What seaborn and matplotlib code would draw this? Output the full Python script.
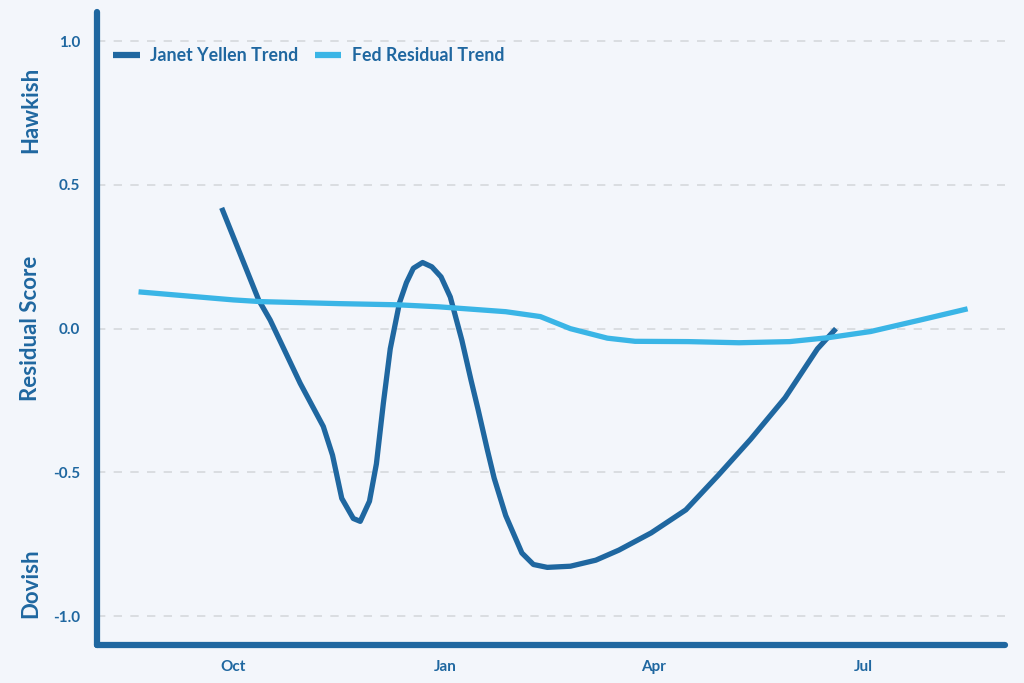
import matplotlib
matplotlib.use("Agg")
import matplotlib.pyplot as plt
import matplotlib.dates as mdates
import pandas as pd
import seaborn as sns

DARK = "#1f67a0"
LIGHT = "#3ab5e6"
BG = "#f3f6fb"

yellen_dates = ["2016-09-26", "2016-10-12", "2016-10-17", "2016-10-30", "2016-11-03",
                "2016-11-05", "2016-11-09", "2016-11-13", "2016-11-17", "2016-11-22",
                "2016-11-25", "2016-11-29", "2016-12-02", "2016-12-05", "2016-12-08",
                "2016-12-12", "2016-12-15", "2016-12-18", "2016-12-22", "2016-12-26",
                "2016-12-30", "2017-01-03", "2017-01-08", "2017-01-12", "2017-01-15",
                "2017-01-19", "2017-01-22", "2017-01-27", "2017-02-03", "2017-02-08",
                "2017-02-14", "2017-02-24", "2017-03-07", "2017-03-17", "2017-03-24",
                "2017-03-31", "2017-04-15", "2017-04-29", "2017-05-13", "2017-05-28",
                "2017-06-11", "2017-06-19"]
yellen_vals = [0.42, 0.10, 0.03, -0.19, -0.25,
               -0.28, -0.34, -0.44, -0.59, -0.66,
               -0.67, -0.60, -0.47, -0.26, -0.07,
               0.09, 0.16, 0.21, 0.23, 0.215,
               0.18, 0.11, -0.04, -0.18, -0.28,
               -0.42, -0.52, -0.65, -0.78, -0.82,
               -0.83, -0.826, -0.805, -0.77, -0.74,
               -0.71, -0.63, -0.51, -0.385, -0.24,
               -0.07, 0.0]

fed_dates = ["2016-08-21", "2016-10-01", "2016-10-13", "2016-11-16", "2016-12-11",
             "2016-12-29", "2017-01-27", "2017-02-11", "2017-02-24", "2017-03-12",
             "2017-03-24", "2017-04-16", "2017-05-08", "2017-05-30", "2017-06-16",
             "2017-07-04", "2017-07-26", "2017-08-15"]
fed_vals = [0.128, 0.10, 0.094, 0.087, 0.083,
            0.076, 0.059, 0.042, 0.0, -0.033,
            -0.044, -0.045, -0.049, -0.045, -0.031,
            -0.01, 0.031, 0.069]

series_names = ["Janet Yellen Trend", "Fed Residual Trend"]
y_ticks = [-1.0, -0.5, 0.0, 0.5, 1.0]

df = pd.concat([
    pd.DataFrame({"date": pd.to_datetime(yellen_dates), "score": yellen_vals,
                  "series": series_names[0]}),
    pd.DataFrame({"date": pd.to_datetime(fed_dates), "score": fed_vals,
                  "series": series_names[1]}),
])

sns.set_theme(style="white")
plt.rcParams["font.family"] = ["Lato", "DejaVu Sans"]

fig = plt.figure(figsize=(10.24, 6.83), dpi=100, facecolor=BG)
ax = fig.add_axes([0.0947, 0.0556, 0.8863, 0.9264])
ax.set_facecolor(BG)

sns.lineplot(data=df, x="date", y="score", hue="series", hue_order=series_names,
             palette=[DARK, LIGHT], linewidth=3.8, sort=True, ax=ax,
             solid_capstyle="butt", solid_joinstyle="round")

ax.set_ylim(-1.1, 1.1)
ax.set_xlim(pd.Timestamp("2016-08-03"), pd.Timestamp("2017-08-31"))
ax.set_yticks(y_ticks)
ax.set_yticklabels([f"{v:.1f}" for v in y_ticks])
ax.xaxis.set_major_locator(mdates.MonthLocator(bymonth=[1, 4, 7, 10]))
ax.xaxis.set_major_formatter(mdates.DateFormatter("%b"))

ax.yaxis.grid(True, linestyle=(0, (5, 5)), color="#d6d8dc", linewidth=1.2)
ax.set_axisbelow(True)

for side in ["top", "right"]:
    ax.spines[side].set_visible(False)
for side in ["left", "bottom"]:
    ax.spines[side].set_color(DARK)
    ax.spines[side].set_linewidth(4.5)
    ax.spines[side].set_capstyle("round")

ax.tick_params(axis="both", colors=DARK, length=4, width=1.5, labelsize=11, direction="out")
ax.tick_params(axis="x", pad=7)
ax.tick_params(axis="y", pad=8)
for lbl in ax.get_xticklabels() + ax.get_yticklabels():
    lbl.set_fontweight("bold")

ax.set_xlabel("")
ax.set_ylabel("Residual Score", fontsize=16, fontweight="bold", color=DARK)
ax.yaxis.set_label_coords(-0.062, 0.5)
fig.text(0.030, 1 - 110 / 683, "Hawkish", rotation=90, ha="center", va="center",
         fontsize=16, fontweight="bold", color=DARK)
fig.text(0.030, 1 - 583 / 683, "Dovish", rotation=90, ha="center", va="center",
         fontsize=16, fontweight="bold", color=DARK)

leg = ax.legend(loc="upper left", bbox_to_anchor=(0.0, 0.97), ncol=2, frameon=False,
                handlelength=1.5, columnspacing=0.9, handletextpad=0.6,
                prop={"weight": "bold", "size": 12.8})
for t in leg.get_texts():
    t.set_color(DARK)
for h in leg.get_lines():
    h.set_linewidth(4.5)

fig.savefig("out.png", dpi=100, facecolor=BG)
